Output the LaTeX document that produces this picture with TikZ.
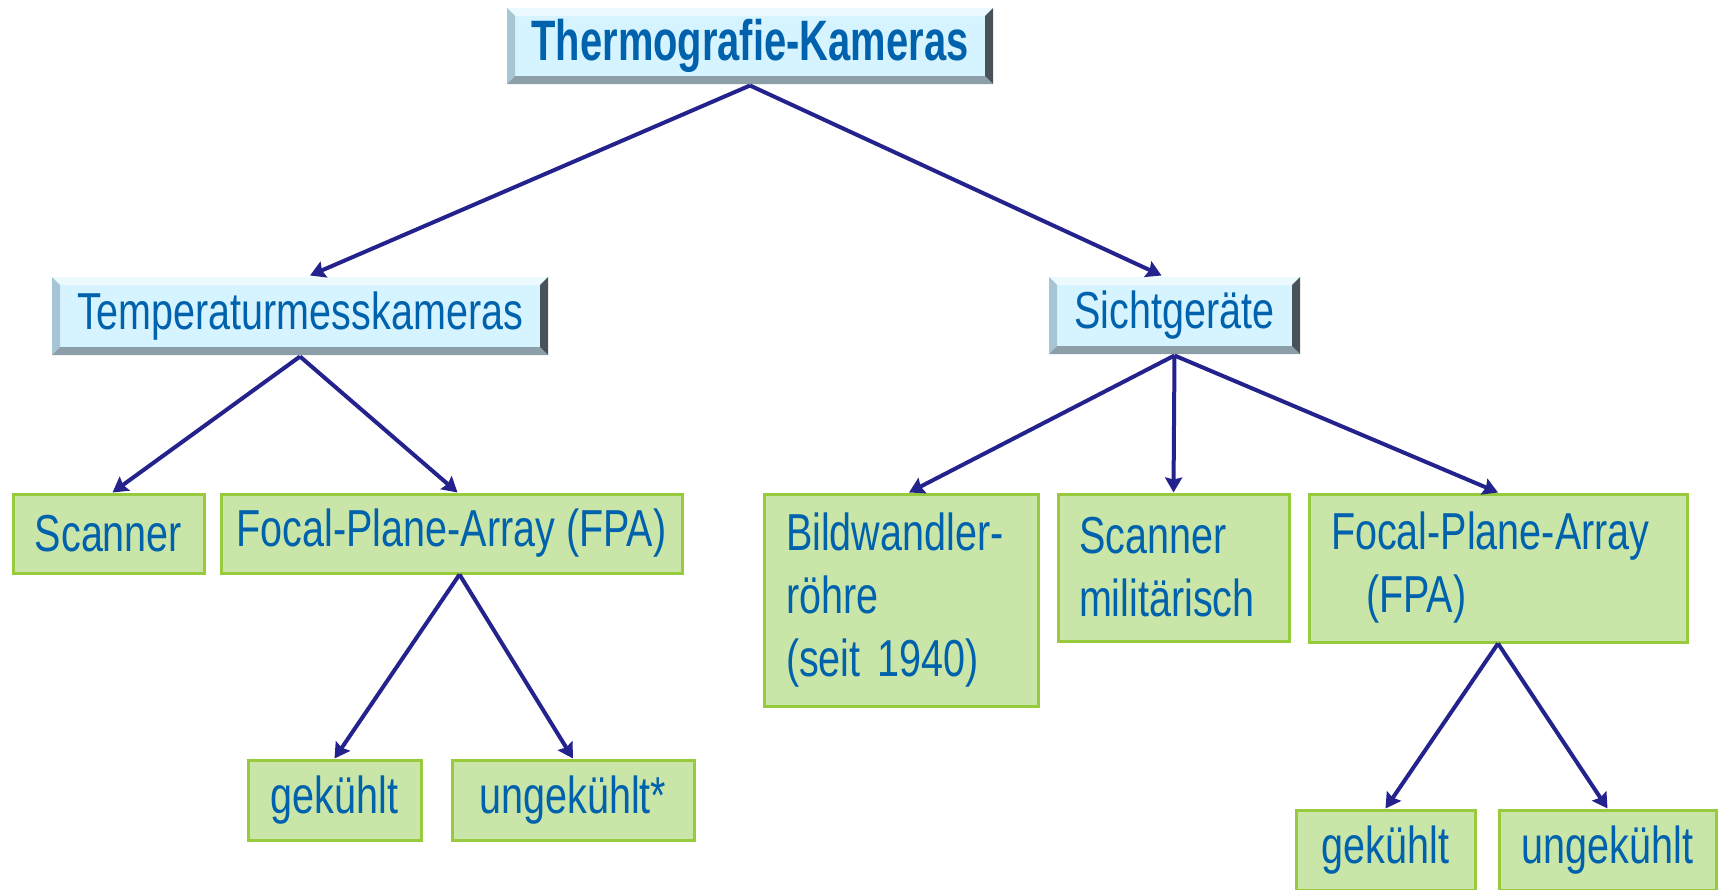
\documentclass[tikz,border=0pt]{standalone}
\usepackage{fontspec}
\setmainfont{Liberation Sans}
\newfontfamily\boxfont{Liberation Sans}[FakeStretch=0.76]
\newfontfamily\headfont{Liberation Sans}[FakeStretch=0.70]
\usepackage{tikz}
\usetikzlibrary{shapes,calc,arrows.meta}

\definecolor{txtblue}{RGB}{0,98,172}
\definecolor{arrowblue}{RGB}{36,34,140}
\definecolor{leafgreen}{RGB}{201,229,168}
\definecolor{rimgreen}{RGB}{152,202,62}
\definecolor{headcyan}{RGB}{214,244,255}
\definecolor{bevtop}{RGB}{236,250,255}
\definecolor{bevleft}{RGB}{166,198,214}
\definecolor{bevbot}{RGB}{140,158,168}
\definecolor{bevright}{RGB}{72,82,88}

\newcommand{\bev}{8pt}

\begin{document}
\begin{tikzpicture}[x=1pt,y=-1pt,line width=3pt,
  link/.style={draw=arrowblue,line width=4pt,-{Stealth[length=15pt,width=17pt,inset=2pt]}},
  leaf/.style={fill=leafgreen,draw=rimgreen,inner sep=0pt,text=txtblue,
    font=\boxfont\fontsize{52}{63}\selectfont},
  head/.style={fill=headcyan,inner sep=0pt,text=txtblue,
    font=\boxfont\fontsize{52}{63}\selectfont,
    path picture={
      \coordinate (o1) at (path picture bounding box.north west);
      \coordinate (o2) at (path picture bounding box.north east);
      \coordinate (o3) at (path picture bounding box.south east);
      \coordinate (o4) at (path picture bounding box.south west);
      \coordinate (i1) at ([shift={(\bev,-\bev)}]o1);
      \coordinate (i2) at ([shift={(-\bev,-\bev)}]o2);
      \coordinate (i3) at ([shift={(-\bev,\bev)}]o3);
      \coordinate (i4) at ([shift={(\bev,\bev)}]o4);
      \fill[bevtop] (o1) -- (o2) -- (i2) -- (i1) -- cycle;
      \fill[bevleft] (o1) -- (i1) -- (i4) -- (o4) -- cycle;
      \fill[bevbot] (o4) -- (i4) -- (i3) -- (o3) -- cycle;
      \fill[bevright] (o2) -- (o3) -- (i3) -- (i2) -- cycle;
    }}]
\useasboundingbox (0,0) rectangle (1718,889);

% top level
\node[head,minimum width=486pt,minimum height=76pt,
  font=\headfont\bfseries\fontsize{57}{63}\selectfont] (cams) at (750,46) {Thermografie-Kameras};

% second level
\node[head,minimum width=496pt,minimum height=78pt] (meas) at (300,316) {Temperaturmesskameras};
\node[head,minimum width=251pt,minimum height=77pt] (sight) at (1174.5,315.5) {Sichtgeräte};

% third level
\node[leaf,minimum width=191pt,minimum height=79pt] (scanA) at (108.5,533.5) {Scanner};
\node[leaf,minimum width=461pt,minimum height=79pt] (fpaA) at (451.5,533.5) {Focal-Plane-Array (FPA)};
\node[leaf,minimum width=274pt,minimum height=212pt,text width=230pt,align=left] (tube) at (901,600)
  {Bildwandler-\\röhre\\(seit 1940)};
\node[leaf,minimum width=231pt,minimum height=147pt,text width=189pt,align=left] (scanB) at (1173.5,567.5)
  {Scanner\\militärisch};
\node[leaf,minimum width=378pt,minimum height=148pt,text width=334pt,align=left] (fpaB) at (1498,568)
  {Focal-Plane-Array\\\hspace*{35pt}(FPA)};

% bottom level
\node[leaf,minimum width=173pt,minimum height=80pt] (coolA) at (334.5,800) {gekühlt};
\node[leaf,minimum width=242pt,minimum height=80pt] (uncoolA) at (573,800) {ungekühlt*};
\node[leaf,minimum width=179pt,minimum height=80pt] (coolB) at (1385.5,850) {gekühlt};
\node[leaf,minimum width=217pt,minimum height=80pt] (uncoolB) at (1607.5,850) {ungekühlt};

% connectors
\draw[link] (cams.south) -- ([xshift=10pt]meas.north);
\draw[link] (cams.south) -- ([xshift=-13pt]sight.north);
\draw[link] (meas.south) -- ([xshift=4pt]scanA.north);
\draw[link] (meas.south) -- ([xshift=6pt]fpaA.north);
\draw[link] (sight.south) -- ([xshift=8pt]tube.north);
\draw[link] (sight.south) -- (scanB.north);
\draw[link] (sight.south) -- (fpaB.north);
\draw[link] ([xshift=8pt]fpaA.south) -- (coolA.north);
\draw[link] ([xshift=8pt]fpaA.south) -- (uncoolA.north);
\draw[link] (fpaB.south) -- (coolB.north);
\draw[link] (fpaB.south) -- (uncoolB.north);
\end{tikzpicture}
\end{document}
